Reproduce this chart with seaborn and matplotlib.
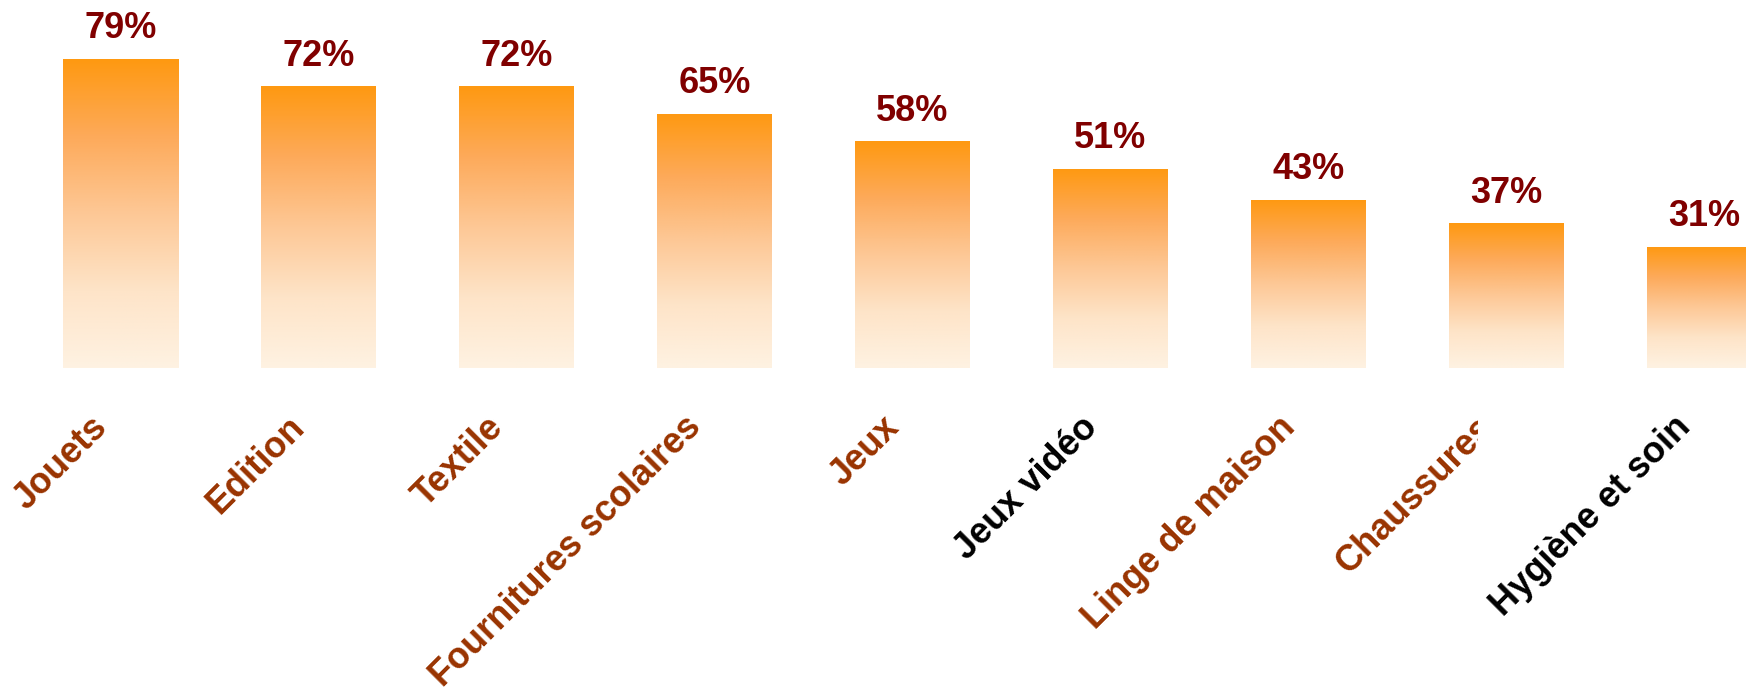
import numpy as np
import pandas as pd
import matplotlib
matplotlib.use("Agg")
import matplotlib.pyplot as plt
import seaborn as sns
from matplotlib.colors import LinearSegmentedColormap
from matplotlib.transforms import ScaledTranslation, Bbox

# data
categories = ["Jouets", "Edition", "Textile", "Fournitures scolaires", "Jeux",
              "Jeux vidéo", "Linge de maison", "Chaussures", "Hygiène et soin"]
values = [79, 72, 72, 65, 58, 51, 43, 37, 31]
label_colors = ["#993300", "#993300", "#993300", "#993300", "#993300",
                "#000000", "#993300", "#993300", "#000000"]

df = pd.DataFrame({"categorie": categories, "part": values})

sns.set_style("white")
plt.rcParams["font.family"] = ["Liberation Sans", "DejaVu Sans"]

W, H = 1746, 689
fig = plt.figure(figsize=(W / 100, H / 100), dpi=100)
base_px = 368  # bar baseline, pixels from top
ax = fig.add_axes([0, (H - base_px) / H, 1, base_px / H])

sns.barplot(data=df, x="categorie", y="part", ax=ax, width=115 / 198,
            color="#FF9911", linewidth=0)

# vertical gradient on each bar
cmap = LinearSegmentedColormap.from_list(
    "grad", [(0, "#FEF2E2"), (0.25, "#FEE4C8"), (0.5, "#FDC896"),
             (0.75, "#FDAA5A"), (1, "#FF9911")])
grad = np.linspace(0, 1, 256).reshape(-1, 1)
for bar in list(ax.patches):
    x0, w, h = bar.get_x(), bar.get_width(), bar.get_height()
    im = ax.imshow(grad, extent=[x0, x0 + w, 0, h], origin="lower",
                   aspect="auto", cmap=cmap, zorder=bar.get_zorder())
    im.set_clip_path(bar)
    bar.set_facecolor("none")
    bar.set_edgecolor("none")

ax.bar_label(ax.containers[0], labels=[f"{v}%" for v in values], padding=9,
             fontsize=26, fontweight="bold", color="#800000")

ax.set_xlim(-120.5 / 198, (W - 120.5) / 198)
ax.set_ylim(0, base_px / (309 / 79))
ax.set_xlabel("")
ax.set_ylabel("")
ax.set_yticks([])
ax.set_xticks(range(len(categories)))
ax.set_xticklabels(categories, rotation=45, ha="right", rotation_mode="anchor",
                   fontsize=26, fontweight="bold")
ax.tick_params(axis="x", length=0, pad=30)
sns.despine(ax=ax, left=True, bottom=True)

shift = ScaledTranslation(-31 / 100, 0, fig.dpi_scale_trans)
for lbl, c in zip(ax.get_xticklabels(), label_colors):
    lbl.set_color(c)
    lbl.set_transform(lbl.get_transform() + shift)

# the "Chaussures" label is cut off on its right side in the original
chaus = ax.get_xticklabels()[7]
chaus.set_clip_on(True)
chaus.set_clip_box(Bbox.from_extents(0, 0, 1478, H))

fig.savefig("out.png", dpi=100)
